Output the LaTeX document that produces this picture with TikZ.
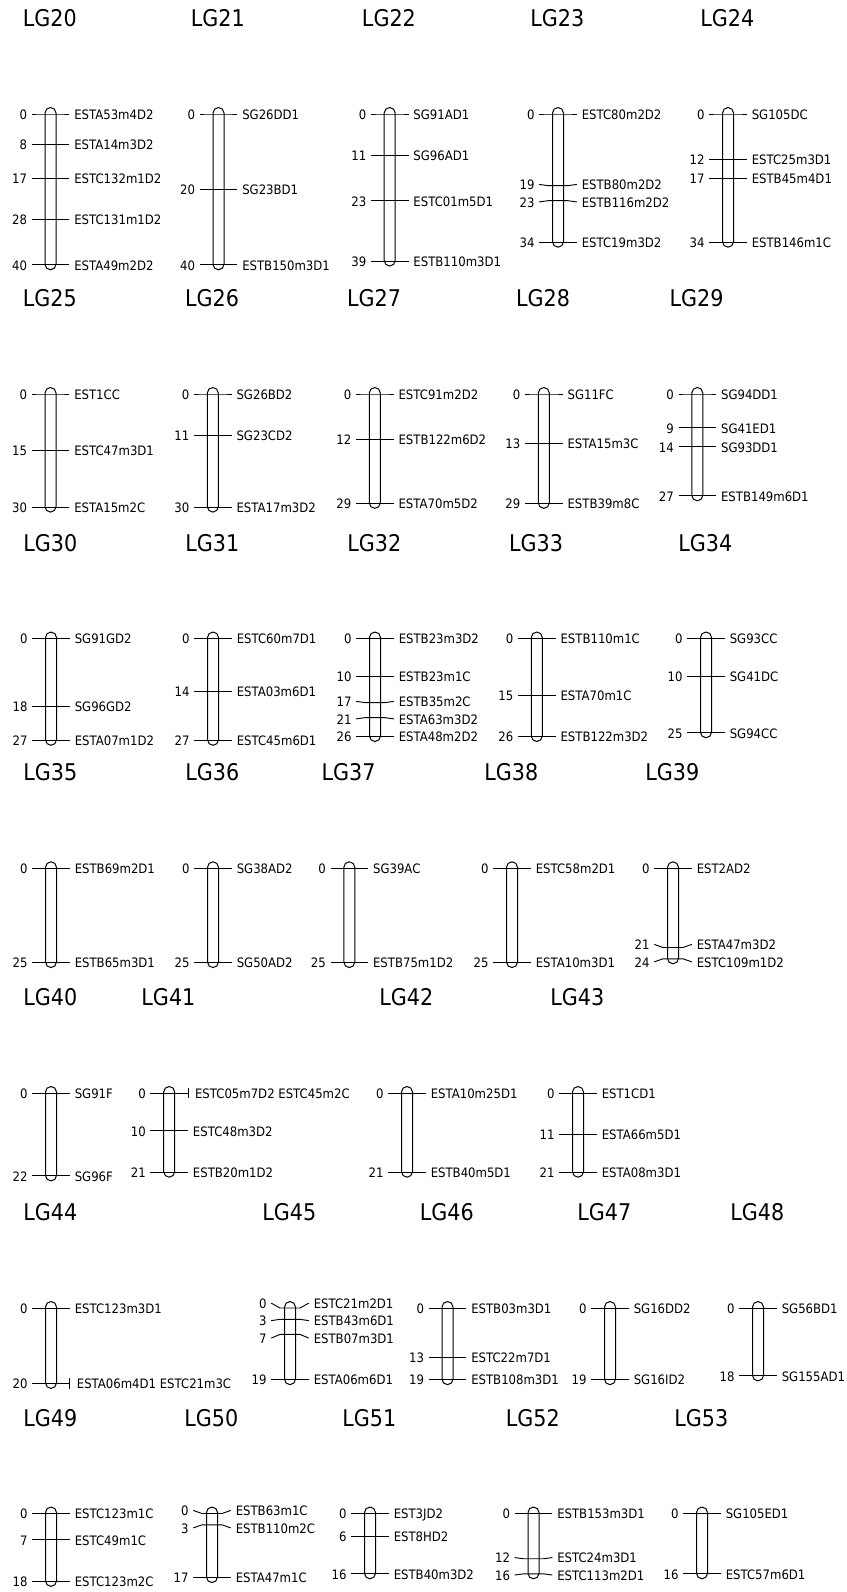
\documentclass[tikz,border=0pt]{standalone}
\usepackage{fontspec}
\setmainfont{DejaVu Sans}[FakeStretch=0.9]
\newcommand{\LGchrom}[5][0]{%
  \node[lgtitle] (lg#2) at (#3-28+#1,#4-87.5) {LG#2};%
  \draw[chrom] (#3-5.5,#4-6.5) rectangle (#3+5.5,#4+#5*3.77+5);%
}
\newcommand{\LGmark}[6]{%
  \pgfmathsetmacro\lgyp{#3+#4*3.77}%
  \pgfmathsetmacro\lgyq{\lgyp+#5}%
  \draw[mk] (#2-18.8,\lgyq) -- (#2-10,\lgyp) -- (#2+10,\lgyp) -- (#2+18.8,\lgyq);%
  \node[numlab] (lg#1-m#4-n) at (#2-23.2,\lgyq+5.3) {#4};%
  \node[namelab] (lg#1-m#4-l) at (#2+23.5,\lgyq+5.3) {#6};%
}
\newcommand{\LGmarkT}[5]{%
  \pgfmathsetmacro\lgyp{#3+#4*3.77}%
  \draw[mk] (#2-18.8,\lgyp) -- (#2+18.8,\lgyp);%
  \draw[mk] (#2+18.8,\lgyp-5.3) -- (#2+18.8,\lgyp+5.3);%
  \node[numlab] (lg#1-m#4-n) at (#2-23.2,\lgyp+5.3) {#4};%
  \node[namelab] (lg#1-m#4-l) at (#2+25.6,\lgyp+5.3) {#5};%
}
\begin{document}
\begin{tikzpicture}[x=0.75pt,y=-0.75pt,
  chrom/.style={draw=black,line width=0.75pt,rounded corners=4.12pt},
  mk/.style={draw=black,line width=0.7pt},
  numlab/.style={anchor=base east,inner sep=0pt,font=\fontsize{9.75}{11}\selectfont},
  namelab/.style={anchor=base west,inner sep=0pt,font=\fontsize{9.75}{11}\selectfont},
  lgtitle/.style={anchor=base west,inner sep=0pt,font=\fontsize{17.25}{20}\selectfont}]
\fill[white] (0,0) rectangle (846,1592);
\useasboundingbox (0,0) rectangle (846,1592);
% ---------------- Row 1
\LGchrom{20}{50.5}{114}{40}
\LGmark{20}{50.5}{114}{0}{0}{ESTA53m4D2}
\LGmark{20}{50.5}{114}{8}{0}{ESTA14m3D2}
\LGmark{20}{50.5}{114}{17}{0}{ESTC132m1D2}
\LGmark{20}{50.5}{114}{28}{0}{ESTC131m1D2}
\LGmark{20}{50.5}{114}{40}{0}{ESTA49m2D2}
\LGchrom{21}{218.5}{114}{40}
\LGmark{21}{218.5}{114}{0}{0}{SG26DD1}
\LGmark{21}{218.5}{114}{20}{0}{SG23BD1}
\LGmark{21}{218.5}{114}{40}{0}{ESTB150m3D1}
\LGchrom{22}{389.7}{114}{39}
\LGmark{22}{389.7}{114}{0}{0}{SG91AD1}
\LGmark{22}{389.7}{114}{11}{0}{SG96AD1}
\LGmark{22}{389.7}{114}{23}{0}{ESTC01m5D1}
\LGmark{22}{389.7}{114}{39}{0}{ESTB110m3D1}
\LGchrom{23}{558}{114}{34}
\LGmark{23}{558}{114}{0}{0}{ESTC80m2D2}
\LGmark{23}{558}{114}{19}{-1.2}{ESTB80m2D2}
\LGmark{23}{558}{114}{23}{1.2}{ESTB116m2D2}
\LGmark{23}{558}{114}{34}{0}{ESTC19m3D2}
\LGchrom{24}{728}{114}{34}
\LGmark{24}{728}{114}{0}{0}{SG105DC}
\LGmark{24}{728}{114}{12}{0}{ESTC25m3D1}
\LGmark{24}{728}{114}{17}{0}{ESTB45m4D1}
\LGmark{24}{728}{114}{34}{0}{ESTB146m1C}
% ---------------- Row 2
\LGchrom{25}{50.5}{394}{30}
\LGmark{25}{50.5}{394}{0}{0}{EST1CC}
\LGmark{25}{50.5}{394}{15}{0}{ESTC47m3D1}
\LGmark{25}{50.5}{394}{30}{0}{ESTA15m2C}
\LGchrom{26}{212.8}{394}{30}
\LGmark{26}{212.8}{394}{0}{0}{SG26BD2}
\LGmark{26}{212.8}{394}{11}{0}{SG23CD2}
\LGmark{26}{212.8}{394}{30}{0}{ESTA17m3D2}
\LGchrom{27}{374.8}{394}{29}
\LGmark{27}{374.8}{394}{0}{0}{ESTC91m2D2}
\LGmark{27}{374.8}{394}{12}{0}{ESTB122m6D2}
\LGmark{27}{374.8}{394}{29}{0}{ESTA70m5D2}
\LGchrom{28}{543.8}{394}{29}
\LGmark{28}{543.8}{394}{0}{0}{SG11FC}
\LGmark{28}{543.8}{394}{13}{0}{ESTA15m3C}
\LGmark{28}{543.8}{394}{29}{0}{ESTB39m8C}
\LGchrom{29}{697.3}{394}{27}
\LGmark{29}{697.3}{394}{0}{0}{SG94DD1}
\LGmark{29}{697.3}{394}{9}{0}{SG41ED1}
\LGmark{29}{697.3}{394}{14}{0}{SG93DD1}
\LGmark{29}{697.3}{394}{27}{0}{ESTB149m6D1}
% ---------------- Row 3
\LGchrom{30}{51}{638.5}{27}
\LGmark{30}{51}{638.5}{0}{0}{SG91GD2}
\LGmark{30}{51}{638.5}{18}{0}{SG96GD2}
\LGmark{30}{51}{638.5}{27}{0}{ESTA07m1D2}
\LGchrom{31}{213}{638.5}{27}
\LGmark{31}{213}{638.5}{0}{0}{ESTC60m7D1}
\LGmark{31}{213}{638.5}{14}{0}{ESTA03m6D1}
\LGmark{31}{213}{638.5}{27}{0}{ESTC45m6D1}
\LGchrom{32}{375}{638.5}{26}
\LGmark{32}{375}{638.5}{0}{0}{ESTB23m3D2}
\LGmark{32}{375}{638.5}{10}{0}{ESTB23m1C}
\LGmark{32}{375}{638.5}{17}{-1.2}{ESTB35m2C}
\LGmark{32}{375}{638.5}{21}{1.2}{ESTA63m3D2}
\LGmark{32}{375}{638.5}{26}{0}{ESTA48m2D2}
\LGchrom{33}{536.8}{638.5}{26}
\LGmark{33}{536.8}{638.5}{0}{0}{ESTB110m1C}
\LGmark{33}{536.8}{638.5}{15}{0}{ESTA70m1C}
\LGmark{33}{536.8}{638.5}{26}{0}{ESTB122m3D2}
\LGchrom{34}{706}{638.5}{25}
\LGmark{34}{706}{638.5}{0}{0}{SG93CC}
\LGmark{34}{706}{638.5}{10}{0}{SG41DC}
\LGmark{34}{706}{638.5}{25}{0}{SG94CC}
% ---------------- Row 4
\LGchrom{35}{51}{868.3}{25}
\LGmark{35}{51}{868.3}{0}{0}{ESTB69m2D1}
\LGmark{35}{51}{868.3}{25}{0}{ESTB65m3D1}
\LGchrom{36}{213}{868.3}{25}
\LGmark{36}{213}{868.3}{0}{0}{SG38AD2}
\LGmark{36}{213}{868.3}{25}{0}{SG50AD2}
\LGchrom{37}{349.3}{868.3}{25}
\LGmark{37}{349.3}{868.3}{0}{0}{SG39AC}
\LGmark{37}{349.3}{868.3}{25}{0}{ESTB75m1D2}
\LGchrom{38}{512}{868.3}{25}
\LGmark{38}{512}{868.3}{0}{0}{ESTC58m2D1}
\LGmark{38}{512}{868.3}{25}{0}{ESTA10m3D1}
\LGchrom{39}{673}{868.3}{24}
\LGmark{39}{673}{868.3}{0}{0}{EST2AD2}
\LGmark{39}{673}{868.3}{21}{-3.1}{ESTA47m3D2}
\LGmark{39}{673}{868.3}{24}{3.1}{ESTC109m1D2}
% ---------------- Row 5
\LGchrom{40}{51}{1093}{22}
\LGmark{40}{51}{1093}{0}{0}{SG91F}
\LGmark{40}{51}{1093}{22}{0}{SG96F}
\LGchrom{41}{169.2}{1093}{21}
\LGmarkT{41}{169.2}{1093}{0}{ESTC05m7D2 ESTC45m2C}
\LGmark{41}{169.2}{1093}{10}{0}{ESTC48m3D2}
\LGmark{41}{169.2}{1093}{21}{0}{ESTB20m1D2}
\LGchrom{42}{407}{1093}{21}
\LGmark{42}{407}{1093}{0}{0}{ESTA10m25D1}
\LGmark{42}{407}{1093}{21}{0}{ESTB40m5D1}
\LGchrom{43}{578}{1093}{21}
\LGmark{43}{578}{1093}{0}{0}{EST1CD1}
\LGmark{43}{578}{1093}{11}{0}{ESTA66m5D1}
\LGmark{43}{578}{1093}{21}{0}{ESTA08m3D1}
% ---------------- Row 6
\LGchrom{44}{51}{1308}{20}
\LGmark{44}{51}{1308}{0}{0}{ESTC123m3D1}
\LGmarkT{44}{51}{1308}{20}{ESTA06m4D1 ESTC21m3C}
\LGchrom{45}{290}{1308}{19}
\LGmark{45}{290}{1308}{0}{-4.9}{ESTC21m2D1}
\LGmark{45}{290}{1308}{3}{1.3}{ESTB43m6D1}
\LGmark{45}{290}{1308}{7}{3.7}{ESTB07m3D1}
\LGmark{45}{290}{1308}{19}{0}{ESTA06m6D1}
\LGchrom{46}{447.5}{1308}{19}
\LGmark{46}{447.5}{1308}{0}{0}{ESTB03m3D1}
\LGmark{46}{447.5}{1308}{13}{0}{ESTC22m7D1}
\LGmark{46}{447.5}{1308}{19}{0}{ESTB108m3D1}
\LGchrom[-5]{47}{610}{1308}{19}
\LGmark{47}{610}{1308}{0}{0}{SG16DD2}
\LGmark{47}{610}{1308}{19}{0}{SG16ID2}
\LGchrom{48}{758}{1308}{18}
\LGmark{48}{758}{1308}{0}{0}{SG56BD1}
\LGmark{48}{758}{1308}{18}{0}{SG155AD1}
% ---------------- Row 7
\LGchrom{49}{51}{1513.5}{18}
\LGmark{49}{51}{1513.5}{0}{0}{ESTC123m1C}
\LGmark{49}{51}{1513.5}{7}{0}{ESTC49m1C}
\LGmark{49}{51}{1513.5}{18}{0}{ESTC123m2C}
\LGchrom{50}{212}{1513.5}{17}
\LGmark{50}{212}{1513.5}{0}{-3.1}{ESTB63m1C}
\LGmark{50}{212}{1513.5}{3}{3.1}{ESTB110m2C}
\LGmark{50}{212}{1513.5}{17}{0}{ESTA47m1C}
\LGchrom{51}{370}{1513.5}{16}
\LGmark{51}{370}{1513.5}{0}{0}{EST3JD2}
\LGmark{51}{370}{1513.5}{6}{0}{EST8HD2}
\LGmark{51}{370}{1513.5}{16}{0}{ESTB40m3D2}
\LGchrom{52}{533.5}{1513.5}{16}
\LGmark{52}{533.5}{1513.5}{0}{0}{ESTB153m3D1}
\LGmark{52}{533.5}{1513.5}{12}{-1.2}{ESTC24m3D1}
\LGmark{52}{533.5}{1513.5}{16}{1.2}{ESTC113m2D1}
\LGchrom{53}{702}{1513.5}{16}
\LGmark{53}{702}{1513.5}{0}{0}{SG105ED1}
\LGmark{53}{702}{1513.5}{16}{0}{ESTC57m6D1}
\end{tikzpicture}
\end{document}
